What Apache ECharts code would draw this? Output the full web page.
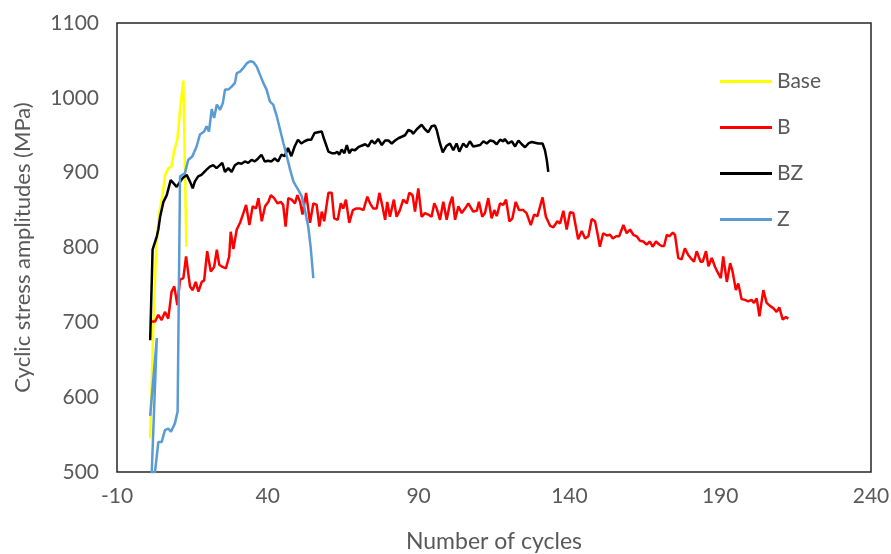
<!DOCTYPE html>
<html lang="en">
<head>
    <meta charset="UTF-8">
    <title>Cyclic stress amplitudes</title>
    <script src="https://cdn.jsdelivr.net/npm/echarts@6/dist/echarts.min.js"></script>
    <style>
        html, body { margin: 0; padding: 0; background: #fff; }
        #main { width: 891px; height: 554px; }
    </style>
</head>
<body>
<div id="main"></div>
<script type="text/javascript">
    // [cycle, amplitude MPa]
    var baseData = [[1, 545], [2, 690], [3, 800], [4, 846], [5, 868], [6, 897], [7, 906], [8, 908], [9, 930],
        [10, 944], [11, 988], [12, 1023], [13, 801]];

    var bData = [[1, 701], [2.6, 701], [3.7, 710], [4.8, 703], [5.9, 714], [7, 705], [8.1, 741], [9, 748], [10, 723],
        [10.9, 757], [12, 759], [12.9, 788], [14.2, 748], [15.1, 743], [16.1, 754], [17, 741], [18.1, 754], [18.9, 756],
        [19.9, 795], [21.1, 768], [22.2, 774], [23.1, 797], [23.9, 777], [25, 774], [26.1, 772], [27.2, 788], [27.7, 821],
        [28.6, 798], [29.7, 824], [30.8, 833], [31.9, 846], [32.8, 857], [33.9, 830], [35, 855], [36.1, 852], [36.9, 866],
        [38, 835], [39.1, 855], [40.2, 861], [41, 870], [42.1, 866], [43.2, 859], [44.3, 861], [45.1, 857], [45.9, 828],
        [46.8, 866], [47.9, 864], [49, 859], [49.8, 870], [50.7, 861], [51.5, 844], [52.7, 873], [53.4, 852], [54, 833],
        [55.1, 859], [56.2, 857], [57.1, 828], [57.9, 848], [58.7, 835], [60.1, 873], [61.2, 873], [62, 839], [63.2, 837],
        [64.2, 859], [65, 852], [65.9, 864], [67, 833], [68.2, 850], [69.2, 852], [70.6, 852], [71.7, 850], [73, 868],
        [73.9, 859], [75, 852], [76.1, 852], [77, 873], [77.8, 859], [78.9, 837], [79.6, 861], [80.5, 841], [81.8, 864],
        [82.7, 841], [83.8, 850], [84.9, 864], [86.1, 859], [86.9, 873], [88, 870], [88.8, 848], [89.9, 879], [91, 841],
        [92.1, 846], [93.2, 844], [94.3, 841], [95.2, 859], [96, 852], [97.1, 837], [98.2, 861], [99.3, 837], [100.4, 859],
        [101.2, 868], [102.1, 837], [103.2, 855], [104.3, 846], [105.4, 852], [106.5, 859], [108.1, 848], [109.3, 849],
        [110, 861], [111.1, 841], [112, 846], [113.1, 866], [114.2, 839], [115.1, 850], [115.9, 842], [117, 859],
        [118.1, 857], [119, 864], [120.1, 835], [121.1, 839], [122.2, 861], [123.3, 850], [124.7, 850], [125.8, 846],
        [127.2, 830], [128.3, 844], [129.4, 842], [130, 841], [131.1, 867], [132.2, 841], [133.6, 829], [134.7, 827],
        [136, 835], [136.9, 832], [138, 849], [139.1, 824], [140.2, 847], [141.3, 846], [142.9, 811], [144.1, 822],
        [145.2, 812], [146.3, 815], [147.4, 838], [148.5, 835], [149.3, 819], [150.1, 801], [151.2, 819], [152.4, 816],
        [153.5, 817], [154.4, 812], [155.5, 815], [156.5, 815], [157.9, 830], [159, 819], [160.1, 824], [161.2, 817],
        [162.3, 815], [163.4, 809], [164.5, 808], [165.6, 804], [166.7, 808], [167.6, 801], [168.7, 808], [169.8, 804],
        [170.6, 802], [171.4, 802], [172.3, 817], [173.1, 815], [174.3, 820], [175, 817], [176.1, 786], [177.2, 784],
        [178.3, 799], [179.4, 790], [180.6, 784], [181.3, 781], [182.2, 795], [183.5, 781], [184.2, 781], [185.3, 795],
        [186.1, 775], [187.2, 786], [188.3, 774], [189.4, 765], [190.2, 759], [191, 788], [192.2, 754], [193.3, 779],
        [194.1, 768], [195.2, 743], [196, 752], [197.1, 731], [198.2, 730], [199.3, 728], [200.4, 730], [201.2, 726],
        [202.1, 732], [203, 708], [204.3, 743], [205.4, 726], [206.5, 722], [207.6, 719], [208.7, 714], [209.6, 720],
        [210.7, 704], [211.8, 707], [212.6, 705]];

    var bzData = [[1, 676], [1.8, 797], [3.2, 815], [3.7, 824], [4.3, 841], [5.4, 861], [6.5, 870], [7.8, 890],
        [8.7, 886], [9.8, 881], [10.9, 888], [11.8, 893], [13.1, 897], [14.2, 888], [15.1, 879], [15.8, 888], [16.9, 895],
        [18, 897], [18.6, 895], [19.7, 904], [20.8, 908], [21.9, 910], [23, 906], [24.1, 910], [24.9, 913], [25.8, 901],
        [26.9, 906], [28, 901], [29.1, 910], [30.2, 913], [31.3, 912], [32.4, 915], [33.5, 913], [34.6, 917], [35.7, 915],
        [36.8, 919], [37.9, 924], [39, 915], [40.1, 916], [41.2, 915], [42.3, 919], [43.4, 915], [44.5, 924], [45.6, 922],
        [46.7, 933], [47.8, 922], [48.9, 935], [50, 944], [51.1, 939], [52.2, 942], [53.3, 944], [54.4, 944], [55.5, 953],
        [56.6, 954], [57.9, 955], [58.4, 948], [60.1, 928], [61.2, 926], [62.3, 926], [63, 928], [63.7, 924], [64.5, 931],
        [65.4, 926], [66.2, 937], [67, 926], [67.8, 931], [68.9, 930], [70, 934], [71.1, 936], [72.3, 938], [73.3, 935],
        [74.4, 943], [75.5, 939], [76.6, 945], [77.8, 937], [78.9, 943], [80, 943], [81.1, 939], [82.2, 943], [83.3, 946],
        [84.4, 948], [85.5, 950], [86.6, 957], [87.7, 955], [88.2, 952], [89.4, 958], [91, 964], [92.1, 958], [93.2, 954],
        [94.3, 962], [95.4, 963], [96, 957], [97.1, 939], [98, 927], [99.3, 936], [100.4, 939], [101.5, 930], [102.6, 939],
        [103.5, 928], [104.8, 939], [105.9, 934], [107, 942], [108.1, 935], [109.3, 936], [110.4, 937], [111.5, 942],
        [112.6, 939], [113.7, 943], [114.8, 942], [115.9, 938], [117, 944], [118.1, 942], [118.6, 945], [119.7, 939],
        [120.9, 942], [122, 935], [123.1, 943], [124.2, 938], [125.3, 934], [126.4, 939], [127.5, 941], [128.6, 940],
        [129.7, 939], [131.1, 939], [131.9, 930], [132.5, 917], [133, 901]];

    var zData = [[1, 575], [3.2, 679], [1.5, 498], [2.6, 500], [3.7, 540], [4.8, 540], [5.9, 556], [7, 558], [7.9, 554],
        [9.2, 565], [10.1, 581], [10.9, 895], [12.5, 899], [13.6, 917], [15, 922], [16.4, 935], [17.5, 951], [18.9, 955],
        [19.7, 962], [20.5, 955], [21.4, 985], [22.2, 973], [23.1, 991], [24.2, 984], [25.1, 993], [25.8, 1011],
        [26.9, 1011], [28, 1015], [29.1, 1020], [29.7, 1033], [30.8, 1035], [31.9, 1040], [33, 1046], [34.1, 1049],
        [35.2, 1048], [36.3, 1042], [37.4, 1031], [38.5, 1020], [39.6, 1011], [40.7, 995], [41.8, 991], [43, 975],
        [44.1, 957], [45.2, 939], [46.3, 922], [47.4, 904], [48.5, 888], [50.1, 877], [51.3, 868], [52.3, 850],
        [53.4, 828], [54.2, 801], [55.1, 759]];

    var seriesNames = ['Base', 'B', 'BZ', 'Z'];
    var seriesColors = ['#FFFF00', '#FF0000', '#000000', '#5B9BD5'];
    var xTicks = [-10, 40, 90, 140, 190, 240];
    var yTicks = [500, 600, 700, 800, 900, 1000, 1100];

    var fontFamily = 'Lato, "Open Sans", sans-serif';
    var textColor = '#595959';

    var myChart = echarts.init(document.getElementById('main'));
    var allData = [baseData, bData, bzData, zData];

    var option = {
        animation: false,
        textStyle: {fontFamily: fontFamily},
        grid: {
            left: 117,
            right: 20,
            top: 23,
            bottom: 82,
            outerBoundsMode: 'none',
            show: true,
            borderColor: '#262626',
            borderWidth: 1.5
        },
        legend: {
            orient: 'vertical',
            left: 715,
            top: 66,
            icon: 'rect',
            itemWidth: 52,
            itemHeight: 3,
            itemGap: 25,
            data: seriesNames,
            textStyle: {
                color: textColor,
                fontSize: 21,
                lineHeight: 20,
                fontFamily: fontFamily
            }
        },
        xAxis: {
            type: 'value',
            min: -10,
            max: 240,
            name: 'Number of cycles',
            nameLocation: 'middle',
            nameGap: 58,
            nameTextStyle: {color: textColor, fontSize: 23, fontFamily: fontFamily},
            axisLine: {show: false},
            axisTick: {show: false},
            splitLine: {show: false},
            axisLabel: {
                customValues: xTicks,
                color: textColor,
                fontSize: 21,
                margin: 14,
                fontFamily: fontFamily,
                formatter: function (v) { return String(v); }
            }
        },
        yAxis: {
            type: 'value',
            min: 500,
            max: 1100,
            interval: 100,
            name: 'Cyclic stress amplitudes (MPa)',
            nameLocation: 'middle',
            nameGap: 83,
            nameTextStyle: {color: textColor, fontSize: 22, fontFamily: fontFamily},
            axisLine: {show: false},
            axisTick: {show: false},
            splitLine: {show: false},
            axisLabel: {
                customValues: yTicks,
                color: textColor,
                fontSize: 21,
                margin: 18,
                fontFamily: fontFamily,
                formatter: function (v) { return String(v); }
            }
        },
        series: seriesNames.map(function (name, i) {
            return {
                name: name,
                type: 'line',
                data: allData[i],
                showSymbol: false,
                symbol: 'none',
                color: seriesColors[i],
                lineStyle: {width: 2.5, color: seriesColors[i]}
            };
        })
    };
    myChart.setOption(option);
</script>
</body>
</html>
